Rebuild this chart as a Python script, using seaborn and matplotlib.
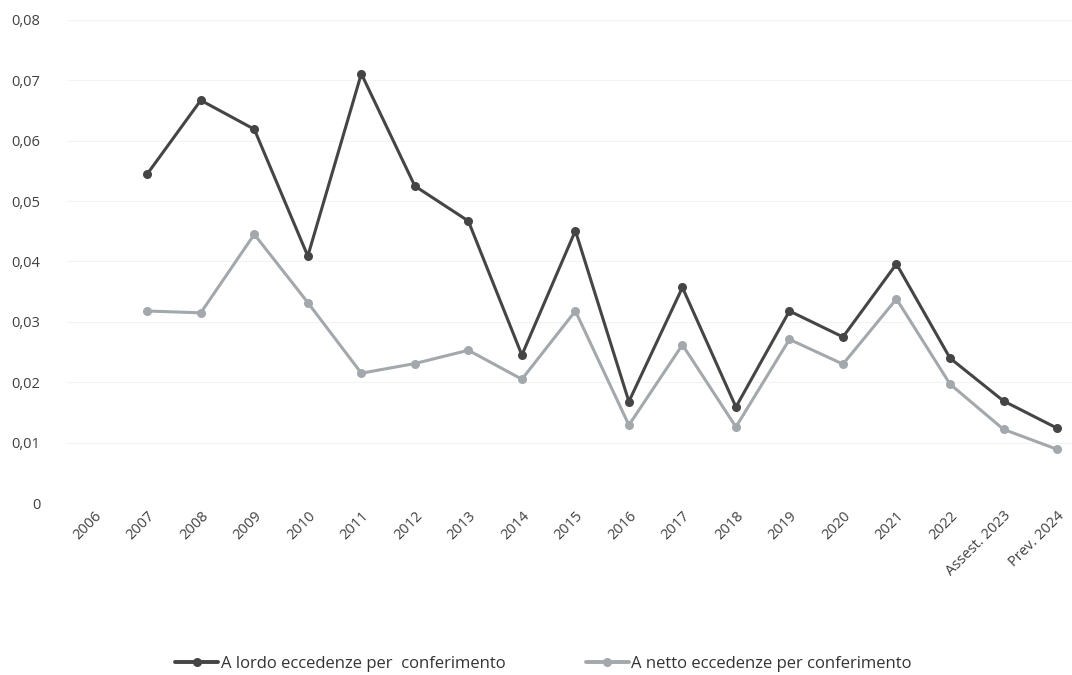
import numpy as np
import pandas as pd
import matplotlib
matplotlib.use("Agg")
import matplotlib.pyplot as plt
import seaborn as sns
from matplotlib.lines import Line2D
from matplotlib import font_manager

categories = ["2006", "2007", "2008", "2009", "2010", "2011", "2012", "2013", "2014",
              "2015", "2016", "2017", "2018", "2019", "2020", "2021", "2022",
              "Assest. 2023", "Prev. 2024"]
lordo = [np.nan, 0.0545, 0.0667, 0.0619, 0.0409, 0.0711, 0.0525, 0.0467, 0.0245,
         0.0451, 0.0168, 0.0357, 0.0159, 0.0318, 0.0275, 0.0396, 0.0240, 0.0169, 0.0124]
netto = [np.nan, 0.0318, 0.0315, 0.0445, 0.0332, 0.0215, 0.0231, 0.0253, 0.0205,
         0.0318, 0.0129, 0.0262, 0.0126, 0.0271, 0.0230, 0.0338, 0.0197, 0.0122, 0.0089]
series_names = ["A lordo eccedenze per  conferimento", "A netto eccedenze per conferimento"]
yticks = [0, 0.01, 0.02, 0.03, 0.04, 0.05, 0.06, 0.07, 0.08]

sns.set_theme(style="white")
plt.rcParams['font.family'] = ['Open Sans', 'DejaVu Sans']

available = {f.name for f in font_manager.fontManager.ttflist}
narrow = "Liberation Sans Narrow" if "Liberation Sans Narrow" in available else "Open Sans"

pos = np.arange(len(categories))
df = pd.DataFrame({
    "pos": np.concatenate([pos, pos]),
    "value": lordo + netto,
    "serie": [series_names[0]] * len(pos) + [series_names[1]] * len(pos),
})

fig = plt.figure(figsize=(10.72, 6.75), dpi=100)
ax = fig.add_axes([0.0625, 0.2548, 0.9375, 0.7156])

palette = {series_names[0]: "#454545", series_names[1]: "#a3a8ad"}
sns.lineplot(data=df.dropna(), x="pos", y="value", hue="serie", palette=palette,
             marker="o", markersize=6.5, markeredgewidth=0, linewidth=2.2,
             sort=False, ax=ax, legend=False)

ax.set_ylim(0, 0.08)
ax.set_xlim(-0.5, 18.28)
ax.set_yticks(yticks)
ax.set_yticklabels(["0" if v == 0 else f"{v:.2f}".replace(".", ",") for v in yticks],
                   fontsize=10.5, color="#404040")
ax.set_xticks(pos)
ax.set_xticklabels(categories, rotation=45, ha="right", rotation_mode="anchor",
                   fontsize=10.5, color="#404040")
ax.tick_params(axis="y", length=0, pad=19)
ax.tick_params(axis="x", length=0, pad=4)
ax.set_xlabel("")
ax.set_ylabel("")
for s in ax.spines.values():
    s.set_visible(False)
ax.grid(axis="y", color="#f3f3f3", linewidth=0.8)
ax.set_axisbelow(True)

handles = [Line2D([], [], color=palette[n], marker="o", markersize=6.5, linewidth=2.8,
                  markeredgewidth=0) for n in series_names]
fig.legend(handles, series_names, loc="lower center", bbox_to_anchor=(0.507, -0.018),
           ncol=2, frameon=False, columnspacing=4.8, handlelength=2.6,
           handletextpad=0.15, labelcolor="#333333",
           prop={"family": narrow, "size": 12})

fig.savefig("out.png", dpi=100, facecolor="white")
